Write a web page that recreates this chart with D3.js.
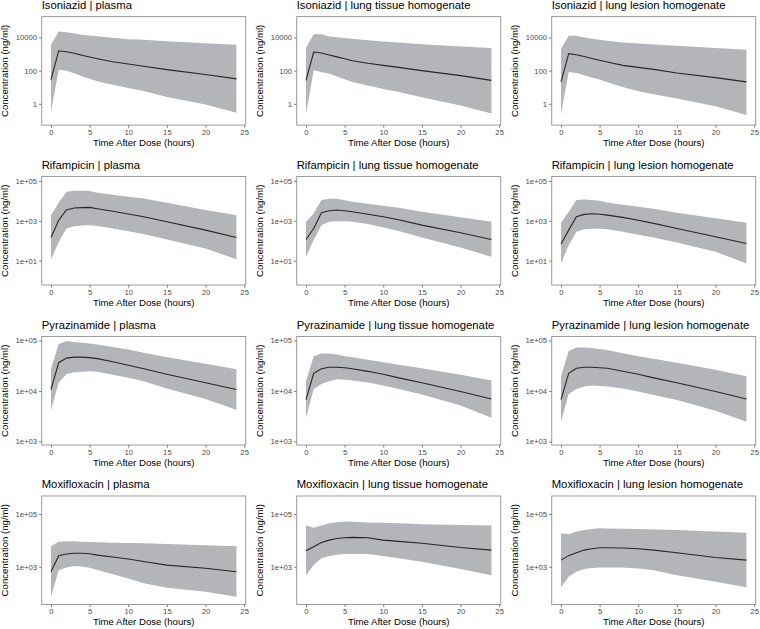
<!DOCTYPE html>
<html><head><meta charset="utf-8">
<script src="https://cdn.jsdelivr.net/npm/d3@7"></script>
<style>body{margin:0;background:#fff}svg{display:block}text{font-family:"Liberation Sans",Arial,sans-serif}</style>
</head><body><svg id="c" width="760" height="629"></svg>
<script>
const times = [0,1,2,3,4,5,6,8,10,12,15,20,24];
const drugs = ["Isoniazid","Rifampicin","Pyrazinamide","Moxifloxacin"];
const matrices = ["plasma","lung tissue homogenate","lung lesion homogenate"];
const xTicks = [0,5,10,15,20,25];
const yTickRows = [[1,100,10000],[10,1000,100000],[1000,10000,100000],[1000,100000]];
const yTickLabelRows = [["1","100","10000"],["1e+01","1e+03","1e+05"],["1e+03","1e+04","1e+05"],["1e+03","1e+05"]];
const yDomainRows = [[0.052,182000],[0.60,166000],[851,120000],[37,479000]];

// Isoniazid
const inhPlasmaMed = [29,1585,1380,1120,850,660,525,347,251,186,115,58,32];
const inhPlasmaHi  = [3630,22900,20900,17400,14500,13200,11700,9550,7940,7240,6030,4570,3630];
const inhPlasmaLo  = [0.33,115,100,69,46,32,23,14,9.1,6.0,2.6,0.91,0.29];
const inhTissueMed = [26,1320,1150,890,680,525,400,282,209,158,100,50,26];
const inhTissueHi  = [2290,15800,15800,11500,10500,9330,8320,6920,5750,5010,3980,2880,2290];
const inhTissueLo  = [0.25,105,83,66,45,30,21,12.6,7.9,5.2,2.5,0.79,0.26];
const inhLesionMed = [21,1050,910,710,540,420,330,209,158,120,72,38,21];
const inhLesionHi  = [2090,12600,12600,10000,8320,7240,6310,5010,4370,3800,3160,2290,1820];
const inhLesionLo  = [0.23,83,72,52,38,29,20,10.5,5.8,3.8,2.1,0.72,0.21];
// Rifampicin
const rifPlasmaMed = [145,1070,3470,4370,4570,4680,3980,3020,2190,1580,890,340,145];
const rifPlasmaHi  = [1910,7940,28800,32400,31600,30900,25700,20000,16200,13200,7940,3470,1910];
const rifPlasmaLo  = [11.7,87,407,537,575,603,550,407,295,214,115,41,11.7];
const rifTissueMed = [115,407,2510,3160,3470,3160,2820,2140,1580,1120,603,251,115];
const rifTissueHi  = [891,2340,11000,12600,12600,10700,8910,7080,5620,4470,2820,1480,891];
const rifTissueLo  = [15.5,107,603,891,933,955,891,692,457,309,145,46,15.5];
const rifLesionMed = [68,339,1580,2090,2240,2140,1910,1480,1070,741,407,158,72];
const rifLesionHi  = [794,2820,11000,11700,11000,10000,8320,6310,5010,3980,2510,1320,794];
const rifLesionLo  = [7.2,60,282,380,398,398,372,282,200,145,81,28,7.2];
// Pyrazinamide
const pzaPlasmaMed = [10700,36300,44700,46800,46800,45700,43700,38000,32400,27500,21400,14500,10700];
const pzaPlasmaHi  = [27500,85100,97700,93300,90200,87100,83200,74100,66100,57500,46800,34700,26900];
const pzaPlasmaLo  = [4170,14800,21400,23400,24000,24500,24000,20900,18200,15500,11200,6920,4270];
const pzaTissueMed = [6760,22400,27500,29500,29500,28800,27500,24500,21400,18200,14500,9770,6920];
const pzaTissueHi  = [15500,49000,55000,55000,52500,49000,46800,41700,37200,33100,28200,20900,16200];
const pzaTissueLo  = [2950,11000,13800,15500,17000,16600,16200,14800,12900,11000,8510,5130,2950];
const pzaLesionMed = [6760,22400,28200,29500,29500,28800,28200,24500,21400,18200,14500,9770,6920];
const pzaLesionHi  = [19500,61700,72400,72400,70800,67600,64600,56200,49000,43700,36300,26300,19500];
const pzaLesionLo  = [2450,8710,11000,12300,12900,12600,12300,11200,9770,8320,6610,4070,2450];
// Moxifloxacin
const mxfPlasmaMed = [646,2630,3020,3240,3240,3090,2750,2340,1950,1580,1150,871,646];
const mxfPlasmaHi  = [6030,8910,9330,9330,8910,8710,8510,8130,7940,7760,7240,6460,6030];
const mxfPlasmaLo  = [72,741,933,1070,1020,912,759,513,355,234,158,112,72];
const mxfTissueMed = [4070,5750,8320,10200,11700,12600,12900,12600,10200,9120,7760,5370,4270];
const mxfTissueHi  = [36300,30200,36300,44700,49000,51300,50100,47900,46800,44700,40700,38000,36300];
const mxfTissueLo  = [479,1150,2090,2570,2820,3020,3020,3020,2570,2090,1550,813,479];
const mxfLesionMed = [1780,2630,3390,4270,4790,5250,5250,5130,4790,4270,3390,2240,1780];
const mxfLesionHi  = [18600,17000,21400,24500,26900,28800,28200,27500,26900,25700,24500,21400,19500];
const mxfLesionLo  = [166,417,646,813,891,933,933,933,851,741,479,269,166];

const panels = [
  [[inhPlasmaMed,inhPlasmaLo,inhPlasmaHi],[inhTissueMed,inhTissueLo,inhTissueHi],[inhLesionMed,inhLesionLo,inhLesionHi]],
  [[rifPlasmaMed,rifPlasmaLo,rifPlasmaHi],[rifTissueMed,rifTissueLo,rifTissueHi],[rifLesionMed,rifLesionLo,rifLesionHi]],
  [[pzaPlasmaMed,pzaPlasmaLo,pzaPlasmaHi],[pzaTissueMed,pzaTissueLo,pzaTissueHi],[pzaLesionMed,pzaLesionLo,pzaLesionHi]],
  [[mxfPlasmaMed,mxfPlasmaLo,mxfPlasmaHi],[mxfTissueMed,mxfTissueLo,mxfTissueHi],[mxfLesionMed,mxfLesionLo,mxfLesionHi]]
];

const svg = d3.select("#c");
const pw = 204, ph = 108.5;
const lefts = [41.7, 296.7, 551.7];
const tops = [16.6, 176.5, 336.5, 496];
const borderCol = "#9b9b9b", tickCol = "#7a7a7a", labCol = "#4d4d4d";

drugs.forEach((drug, r) => {
  matrices.forEach((mat, c) => {
    const g = svg.append("g").attr("transform", `translate(${lefts[c]},${tops[r]})`);
    const x = d3.scaleLinear().domain([-1.2, 25.2]).range([0, pw]);
    const y = d3.scaleLog().domain(yDomainRows[r]).range([ph, 0]);
    const [med, lo, hi] = panels[r][c];
    const rows = times.map((t, i) => ({t, m: med[i], l: lo[i], h: hi[i]}));

    g.append("path").datum(rows)
      .attr("d", d3.area().x(d => x(d.t)).y0(d => y(d.l)).y1(d => y(d.h)))
      .attr("fill", "#b4b5b9");
    g.append("path").datum(rows)
      .attr("d", d3.line().x(d => x(d.t)).y(d => y(d.m)))
      .attr("fill", "none").attr("stroke", "#262626").attr("stroke-width", 1.1);

    g.append("rect").attr("x", 0).attr("y", 0).attr("width", pw).attr("height", ph)
      .attr("fill", "none").attr("stroke", borderCol).attr("stroke-width", 1);

    const xa = g.append("g").attr("transform", `translate(0,${ph})`)
      .call(d3.axisBottom(x).tickValues(xTicks).tickSize(2.6).tickPadding(1.5).tickFormat(d3.format("d")));
    xa.select(".domain").remove();
    xa.selectAll("line").attr("stroke", tickCol);
    xa.selectAll("text").attr("fill", labCol).attr("font-size", "7.7px");

    const labels = yTickLabelRows[r];
    const ya = g.append("g")
      .call(d3.axisLeft(y).tickValues(yTickRows[r]).tickSize(2.6).tickPadding(2)
        .tickFormat((d, i) => labels[i]));
    ya.select(".domain").remove();
    ya.selectAll("line").attr("stroke", tickCol);
    ya.selectAll("text").attr("fill", labCol).attr("font-size", "7.7px");

    g.append("text").attr("x", 0).attr("y", -8)
      .attr("font-size", "11.3px").attr("fill", "#000")
      .text(`${drug} | ${mat}`);

    g.append("text").attr("x", pw / 2).attr("y", ph + 20.8)
      .attr("text-anchor", "middle").attr("font-size", "9.6px").attr("fill", "#000")
      .text("Time After Dose (hours)");

    g.append("text").attr("transform", `translate(-33.5,${ph / 2}) rotate(-90)`)
      .attr("text-anchor", "middle").attr("font-size", "9.6px").attr("fill", "#000")
      .text("Concentration (ng/ml)");
  });
});
</script></body></html>
